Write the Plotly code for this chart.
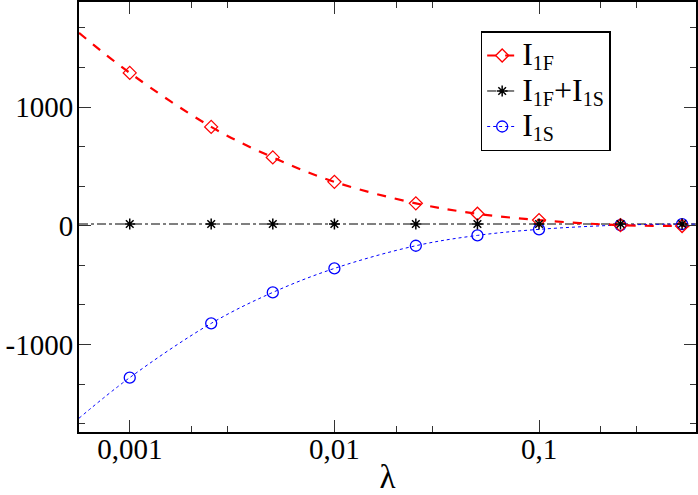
import plotly.graph_objects as go

# Data
lam = [0.001, 0.0025, 0.005, 0.01, 0.025, 0.05, 0.1, 0.25, 0.5]
I1F = [1288, 833, 576, 370, 189, 101, 48, 5, -2]
I1S = [-1279, -822, -561, -359, -168, -81, -30, 6, 14]
Isum = [15, 15, 15, 15, 15, 15, 15, 15, 15]

# Fitted curves (drawn across the full axis range)
fit_lam = [0.000565, 0.001, 0.0025, 0.005, 0.01, 0.025, 0.05, 0.1, 0.25, 0.5, 0.585]
fit_1F = [1625, 1288, 833, 576, 370, 189, 101, 48, 5, -2, -3]
fit_1S = [-1621, -1279, -822, -561, -359, -168, -81, -30, 6, 14, 14]
fit_sum = [15, 15, 15, 15, 15, 15, 15, 15, 15, 15, 15]

BIG = "<span style='font-size:32px'>%s</span>"
SUB = "<sub><span style='font-size:20px'>%s</span></sub>"
names = [BIG % "I" + SUB % "1F",
         BIG % "I" + SUB % "1F" + BIG % "+I" + SUB % "1S",
         BIG % "I" + SUB % "1S"]

RED = "#ff0000"
BLUE = "#0000ff"
BLACK = "#000000"

fig = go.Figure()

# fit lines
fig.add_trace(go.Scatter(x=fit_lam, y=fit_sum, mode="lines", showlegend=False,
                         line=dict(color=BLACK, width=1, dash="dashdot")))
fig.add_trace(go.Scatter(x=fit_lam, y=fit_1S, mode="lines", showlegend=False,
                         line=dict(color=BLUE, width=1, dash="dot", shape="spline")))
fig.add_trace(go.Scatter(x=fit_lam, y=fit_1F, mode="lines", showlegend=False,
                         line=dict(color=RED, width=2.2, dash="dash", shape="spline")))

# markers
fig.add_trace(go.Scatter(x=lam, y=I1S, mode="markers", showlegend=False,
                         marker=dict(symbol="circle-open", size=11, color=BLUE, line=dict(width=1.3))))
fig.add_trace(go.Scatter(x=lam, y=I1F, mode="markers", showlegend=False,
                         marker=dict(symbol="diamond-open", size=10, color=RED, line=dict(width=1.3))))
fig.add_trace(go.Scatter(x=lam, y=Isum, mode="markers", showlegend=False,
                         marker=dict(symbol="asterisk-open", size=9, color=BLACK, line=dict(width=1.5, color=BLACK))))

# legend entries
fig.add_trace(go.Scatter(x=[None], y=[None], mode="lines+markers", name=names[0],
                         line=dict(color=RED, width=2.2, dash="dash"),
                         marker=dict(symbol="diamond-open", size=10, color=RED, line=dict(width=1.3))))
fig.add_trace(go.Scatter(x=[None], y=[None], mode="lines+markers", name=names[1],
                         line=dict(color=BLACK, width=1, dash="dashdot"),
                         marker=dict(symbol="asterisk-open", size=9, color=BLACK, line=dict(width=1.5, color=BLACK))))
fig.add_trace(go.Scatter(x=[None], y=[None], mode="lines+markers", name=names[2],
                         line=dict(color=BLUE, width=1, dash="dot"),
                         marker=dict(symbol="circle-open", size=11, color=BLUE, line=dict(width=1.3))))

FONT = "Liberation Serif"

fig.update_layout(
    width=698, height=495,
    margin=dict(l=79, r=2, t=2, b=63, autoexpand=False),
    paper_bgcolor="white", plot_bgcolor="white",
    font=dict(family=FONT, size=29, color="black"),
    showlegend=True,
    legend=dict(x=0.651, y=0.932, xanchor="left", yanchor="top",
                bgcolor="white", bordercolor="black", borderwidth=1.5,
                font=dict(family=FONT, size=25), tracegroupgap=0,
                itemwidth=30),
    xaxis=dict(
        type="log", range=[-3.248, -0.233], automargin=False,
        tickvals=[0.001, 0.01, 0.1], ticktext=["0,001", "0,01", "0,1"],
        ticks="inside", ticklen=12, tickwidth=1.3, tickcolor="#333",
        showline=True, linecolor="black", linewidth=2, mirror="ticks",
        showgrid=False, zeroline=False, ticklabelstandoff=-10,
        minor=dict(tickvals=[0.002, 0.003, 0.02, 0.03, 0.2, 0.3], ticks="inside",
                   ticklen=6, tickwidth=1.3, tickcolor="#333", showgrid=False),
        title=dict(text="λ", font=dict(family=FONT, size=33), standoff=8),
        tickfont=dict(family=FONT, size=29),
    ),
    yaxis=dict(
        range=[-1737, 1885], automargin=False,
        tickvals=[-1000, 0, 1000], ticktext=["-1000", "0", "1000"],
        ticks="inside", ticklen=12, tickwidth=1.3, tickcolor="#333",
        showline=True, linecolor="black", linewidth=2, mirror="ticks",
        showgrid=False, zeroline=False, ticklabelstandoff=-2,
        minor=dict(tickvals=[-1666.7, -1333.3, -666.7, -333.3, 333.3, 666.7, 1333.3, 1666.7],
                   ticks="inside", ticklen=6, tickwidth=1.3, tickcolor="#333", showgrid=False),
        tickfont=dict(family=FONT, size=29),
    ),
)

fig.write_html("out.html", config={"displayModeBar": False},
               post_script="document.body.style.margin='0';document.body.style.overflow='hidden';")
